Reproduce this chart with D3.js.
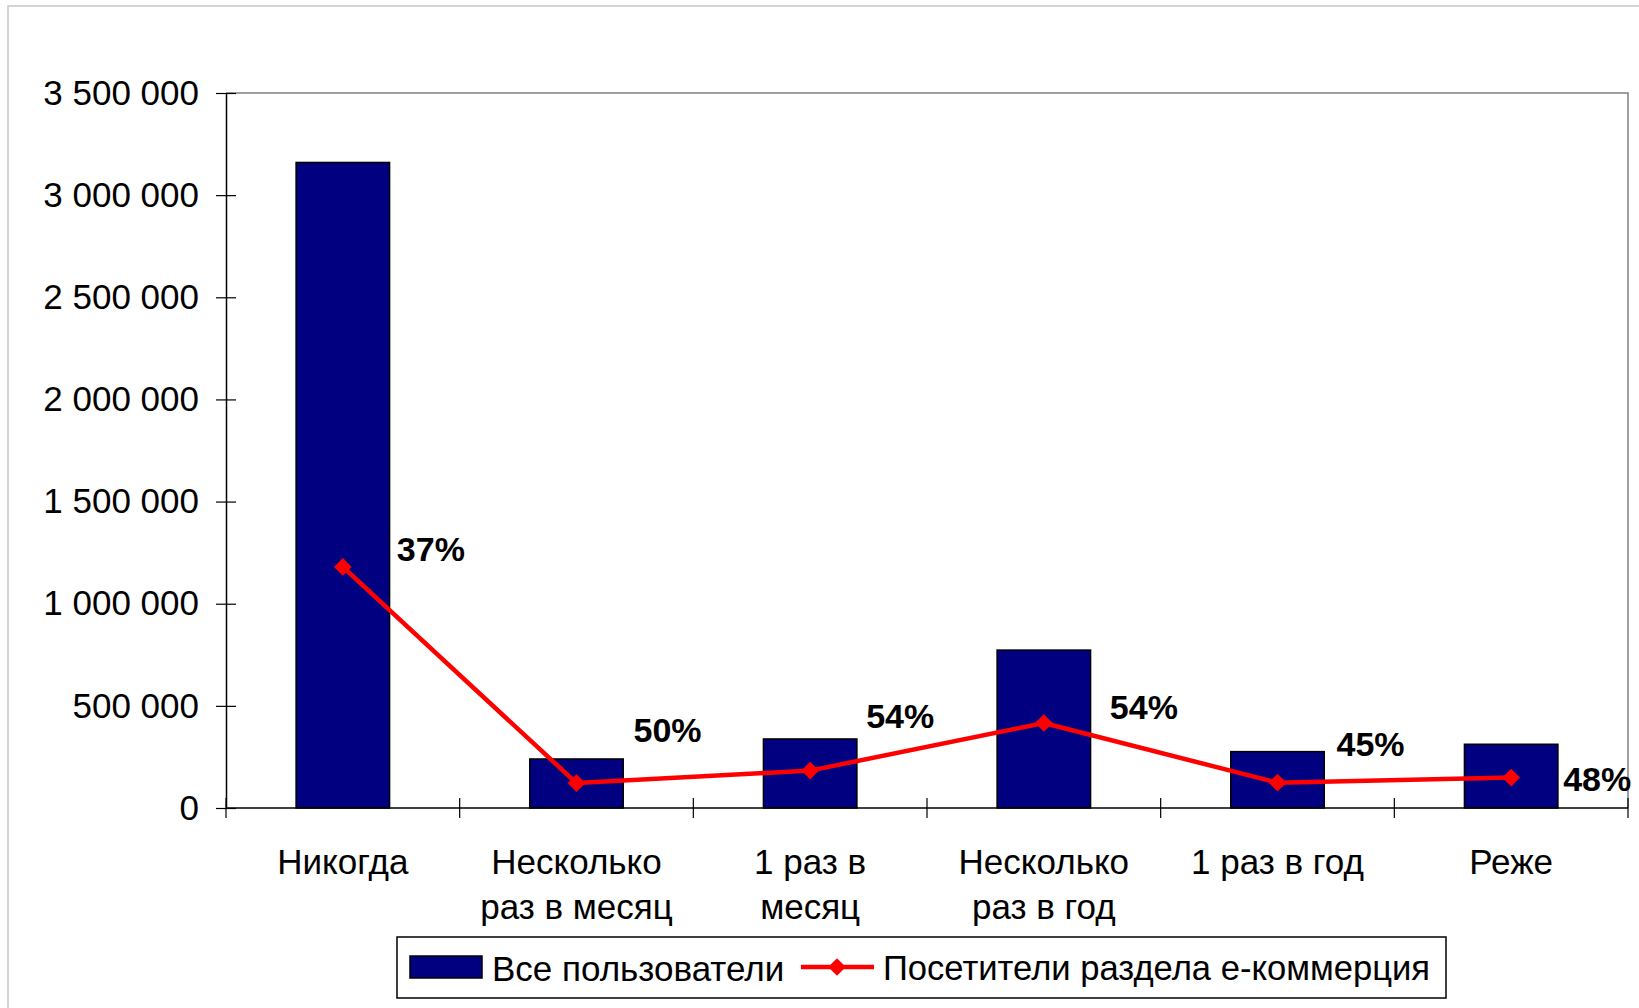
<!DOCTYPE html>
<html>
<head>
<meta charset="utf-8">
<script src="https://cdn.jsdelivr.net/npm/d3@7"></script>
<style>
  body { margin: 0; background: #fff; }
  text { font-family: "Liberation Sans", Arial, sans-serif; fill: #000; }
</style>
</head>
<body>
<svg id="chart" width="1639" height="1008"></svg>
<script>
// categories (two lines where the label wraps)
var categories = ["Никогда", "Несколько раз в месяц", "1 раз в месяц", "Несколько раз в год", "1 раз в год", "Реже"];
var catLines = [["Никогда"], ["Несколько", "раз в месяц"], ["1 раз в", "месяц"], ["Несколько", "раз в год"], ["1 раз в год"], ["Реже"]];

// series
var allUsers = [3160000, 240000, 338000, 773000, 276000, 312000];
var ecomVisitors = [1180000, 122000, 183000, 416000, 124000, 149000];
var shareLabels = ["37%", "50%", "54%", "54%", "45%", "48%"];

var yTicks = [0, 500000, 1000000, 1500000, 2000000, 2500000, 3000000, 3500000];

// label nudges (px) from each point: [dx, dy]
var labelNudge = [[54, -18], [57, -53], [56, -55], [66, -16], [59, -39], [52, 1]];

var svg = d3.select("#chart"),
	pLeft = 226, pRight = 1628, pTop = 93, pBottom = 808;

var x = d3.scaleBand().domain(categories).range([pLeft, pRight]).paddingInner(0.6).paddingOuter(0.3),
	y = d3.scaleLinear().domain([0, 3500000]).range([pBottom, pTop]),
	fmt = function(v) { return d3.format(",")(v).replace(/,/g, " "); };

// outer chart frame
svg.append("path")
	.attr("d", "M8,1008 V6 H1639")
	.attr("fill", "none")
	.attr("stroke", "#c8c8c8")
	.attr("stroke-width", 1.5);

// plot frame (top + right)
svg.append("path")
	.attr("d", "M" + pLeft + "," + pTop + " H" + pRight + " V" + pBottom)
	.attr("fill", "none")
	.attr("stroke", "#808080")
	.attr("stroke-width", 1.5);

// bars
svg.append("g").selectAll("rect")
	.data(allUsers)
	.join("rect")
	.attr("x", function(d, i) { return x(categories[i]); })
	.attr("y", function(d) { return y(d); })
	.attr("width", x.bandwidth())
	.attr("height", function(d) { return pBottom - y(d); })
	.attr("fill", "#000080")
	.attr("stroke", "#000")
	.attr("stroke-width", 1.5);

// y axis
var yAxis = svg.append("g")
	.attr("transform", "translate(" + pLeft + ",0)")
	.call(d3.axisLeft(y).tickValues(yTicks).tickFormat(fmt).tickSizeInner(10).tickSizeOuter(0).tickPadding(17));
yAxis.select(".domain").attr("stroke", "#000").attr("stroke-width", 1.5);
yAxis.selectAll(".tick line").attr("stroke", "#000").attr("stroke-width", 1.2).attr("x2", 10).attr("x1", -10);
yAxis.selectAll(".tick text").attr("font-size", 35).attr("font-family", "Liberation Sans, Arial, sans-serif").attr("fill", "#111");

// x axis: ticks on category boundaries
var xb = svg.append("g").attr("transform", "translate(0," + pBottom + ")");
xb.append("line").attr("x1", pLeft).attr("x2", pRight).attr("stroke", "#000").attr("stroke-width", 1.5);
var bounds = categories.map(function(c) { return x(c) - x.step() * 0.3; }).concat([pRight]);
xb.selectAll("line.tk")
	.data(bounds)
	.join("line")
	.attr("class", "tk")
	.attr("x1", function(d) { return d; })
	.attr("x2", function(d) { return d; })
	.attr("y1", -10).attr("y2", 10)
	.attr("stroke", "#000")
	.attr("stroke-width", 1.2);

// category labels
var lbl = xb.selectAll("text.cat")
	.data(catLines)
	.join("text")
	.attr("class", "cat")
	.attr("text-anchor", "middle")
	.attr("font-size", 35)
	.attr("x", function(d, i) { return x(categories[i]) + x.bandwidth() / 2; })
	.attr("y", 66);
lbl.selectAll("tspan")
	.data(function(d) { return d; })
	.join("tspan")
	.attr("x", function() { return this.parentNode.getAttribute("x"); })
	.attr("dy", function(d, i) { return i ? 45 : 0; })
	.text(function(d) { return d; });

// line series
var cx = function(i) { return x(categories[i]) + x.bandwidth() / 2; };
var line = d3.line()
	.x(function(d, i) { return cx(i); })
	.y(function(d) { return y(d); });

svg.append("path")
	.datum(ecomVisitors)
	.attr("d", line)
	.attr("fill", "none")
	.attr("stroke", "#ff0000")
	.attr("stroke-width", 4.5)
	.attr("stroke-linejoin", "round");

var diamond = d3.symbol().type(d3.symbolDiamond2).size(200);
svg.append("g").selectAll("path")
	.data(ecomVisitors)
	.join("path")
	.attr("d", diamond)
	.attr("transform", function(d, i) { return "translate(" + cx(i) + "," + y(d) + ")"; })
	.attr("fill", "#ff0000");

// percent labels
svg.append("g").selectAll("text")
	.data(ecomVisitors)
	.join("text")
	.attr("x", function(d, i) { return cx(i) + labelNudge[i][0]; })
	.attr("y", function(d, i) { return y(d) + labelNudge[i][1]; })
	.attr("dy", "0.36em")
	.attr("font-size", 34)
	.attr("font-weight", "bold")
	.text(function(d, i) { return shareLabels[i]; });

// legend
var lg = svg.append("g");
lg.append("rect")
	.attr("x", 397).attr("y", 937).attr("width", 1049).attr("height", 61)
	.attr("fill", "#fff").attr("stroke", "#000").attr("stroke-width", 1.5);
lg.append("rect")
	.attr("x", 410).attr("y", 956).attr("width", 72).attr("height", 22)
	.attr("fill", "#000080").attr("stroke", "#000").attr("stroke-width", 1.5);
lg.append("text").attr("x", 492).attr("y", 968).attr("dy", "0.36em").attr("font-size", 35).text("Все пользователи");
lg.append("line")
	.attr("x1", 801).attr("x2", 874).attr("y1", 967).attr("y2", 967)
	.attr("stroke", "#ff0000").attr("stroke-width", 4.5);
lg.append("path").attr("d", diamond).attr("transform", "translate(837,967)").attr("fill", "#ff0000");
lg.append("text").attr("x", 883).attr("y", 968).attr("dy", "0.36em").attr("font-size", 34.6).text("Посетители раздела е-коммерция");
</script>
</body>
</html>
